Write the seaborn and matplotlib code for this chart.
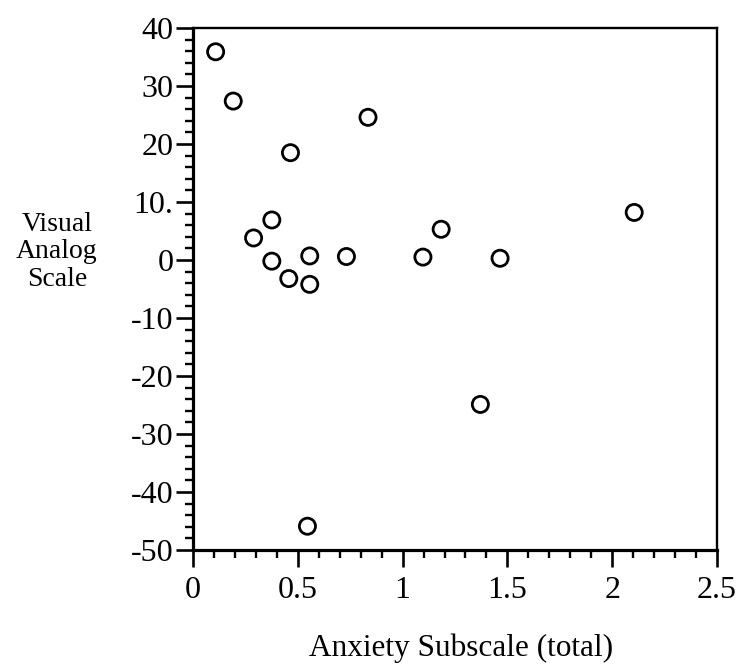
import matplotlib
matplotlib.use("Agg")
import matplotlib.pyplot as plt
import seaborn as sns
import pandas as pd
import numpy as np

# Data
anxiety = [0.108, 0.192, 0.835, 0.465, 0.376, 0.289, 1.184, 0.376, 0.557,
           0.732, 1.097, 0.457, 0.557, 1.371, 0.546, 2.105, 1.465]
vas = [35.9, 27.4, 24.6, 18.5, 6.9, 3.8, 5.3, -0.2, 0.7,
       0.6, 0.5, -3.2, -4.2, -24.9, -45.9, 8.2, 0.3]

x_ticks = [0, 0.5, 1, 1.5, 2, 2.5]
x_tick_labels = ["0", "0.5", "1", "1.5", "2", "2.5"]
y_ticks = [40, 30, 20, 10, 0, -10, -20, -30, -40, -50]
y_tick_labels = ["40", "30", "20", "10.", "0", "-10", "-20", "-30", "-40", "-50"]

df = pd.DataFrame({"Anxiety": anxiety, "VAS": vas})

sns.set_theme(style="white")
plt.rcParams['font.family'] = ['Liberation Serif', 'DejaVu Serif']

fig = plt.figure(figsize=(7.39, 6.71), dpi=100)
ax = fig.add_axes([193/739, 1 - 550/671, (717-193)/739, (550-28)/671])

sns.scatterplot(data=df, x="Anxiety", y="VAS", ax=ax, s=135,
                facecolors="none", edgecolor="black", linewidth=2.0,
                marker="o", legend=False)

ax.set_xlim(0, 2.5)
ax.set_ylim(-50, 40)
ax.set_xticks(x_ticks)
ax.set_xticklabels(x_tick_labels)
ax.set_yticks(y_ticks)
ax.set_yticklabels(y_tick_labels)
ax.set_xticks(np.arange(0, 2.51, 0.1), minor=True)
ax.set_yticks(np.arange(-50, 40.1, 2), minor=True)

ax.tick_params(axis="both", which="major", direction="out", length=12,
               width=1.9, color="black", labelsize=23, labelcolor="black")
ax.tick_params(axis="y", which="major", pad=2)
ax.tick_params(axis="x", which="major", pad=7)
ax.tick_params(axis="both", which="minor", direction="out", length=6,
               width=1.7, color="black")
ax.tick_params(bottom=True, left=True, which="both")

for side in ["left", "bottom"]:
    ax.spines[side].set_linewidth(2.3)
    ax.spines[side].set_color("black")
for side in ["top", "right"]:
    ax.spines[side].set_linewidth(1.7)
    ax.spines[side].set_color("black")

ax.set_xlabel("")
ax.set_ylabel("")
fig.text(461/739, 1 - 648/671, "Anxiety Subscale (total)", ha="center",
         va="center", fontsize=22.5, color="black")
fig.text(57/739, 1 - 252/671, "Visual\nAnalog\nScale", ha="center",
         va="center", fontsize=20, color="black", linespacing=1.15,
         multialignment="center")

ax.grid(False)
fig.savefig("out.png", dpi=100, facecolor="white")
